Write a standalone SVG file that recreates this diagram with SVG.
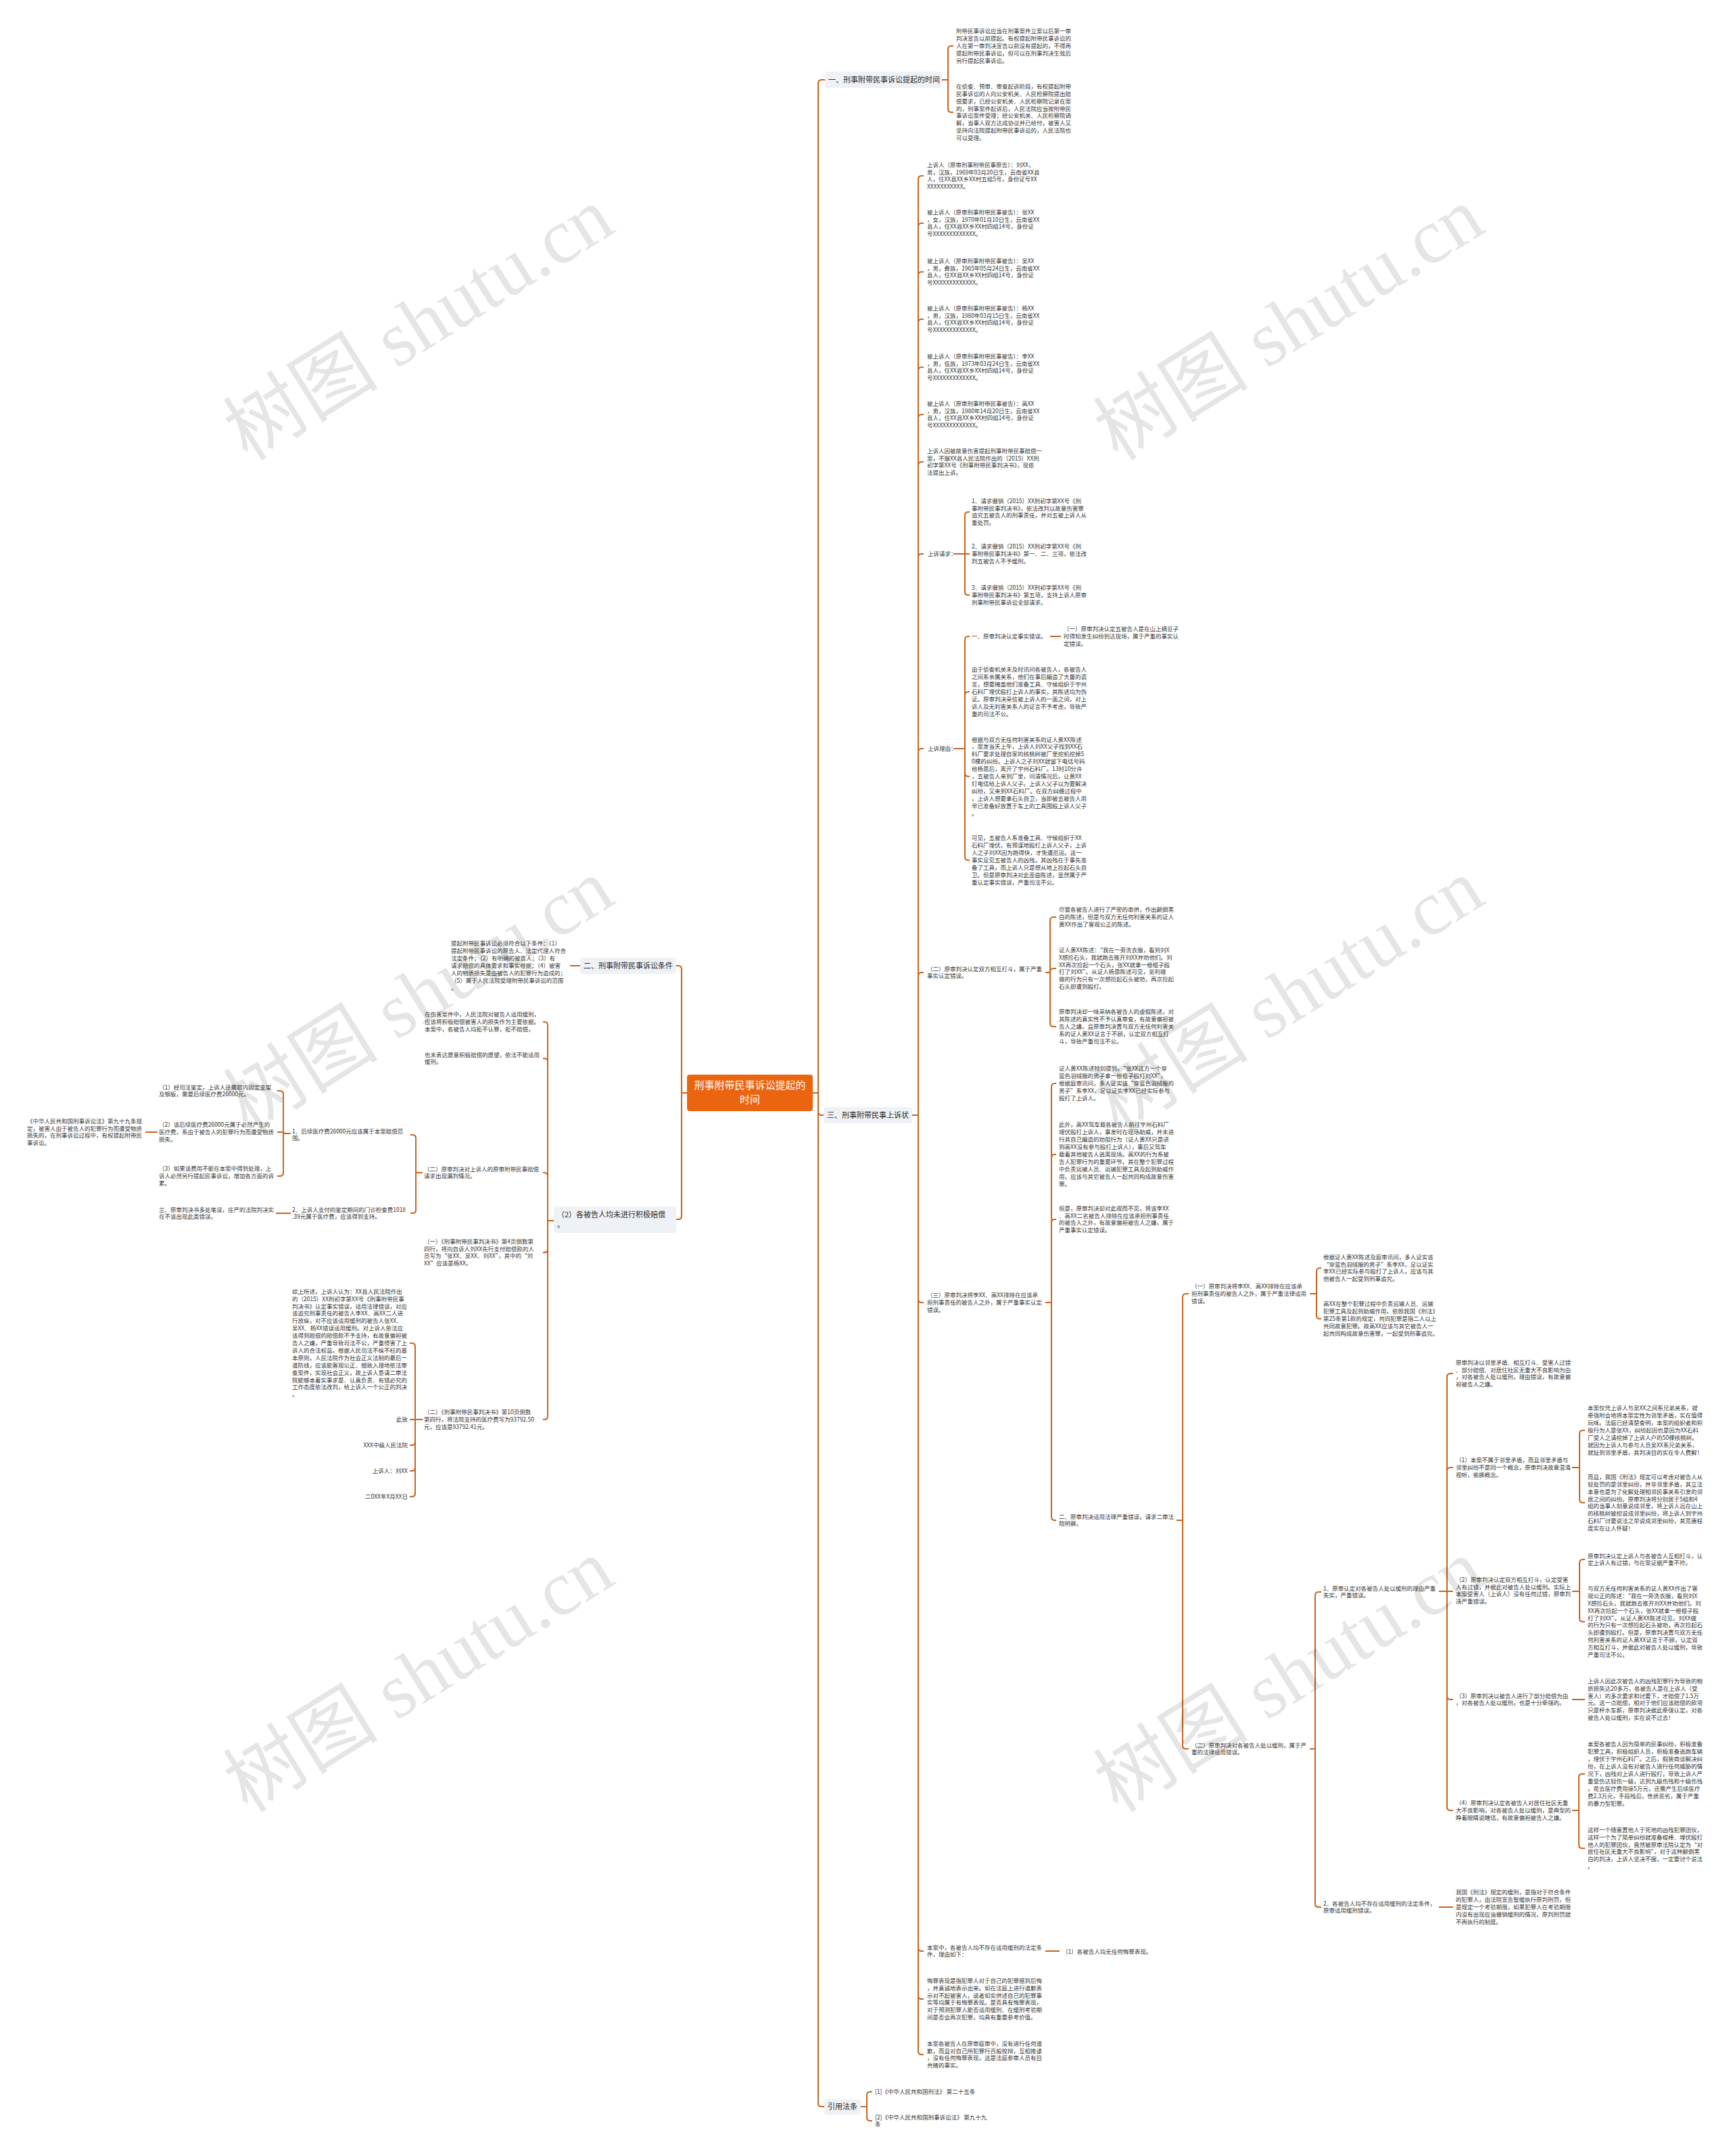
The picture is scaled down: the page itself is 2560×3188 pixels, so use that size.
<svg xmlns="http://www.w3.org/2000/svg" width="2560" height="3188" viewBox="0 0 2560 3188">
<style>
text{font-family:"Noto Sans CJK SC","Liberation Sans",sans-serif;fill:#333}
.t{font-size:8.5px}
.tp{font-size:11px;fill:#2b2b2b}
.cn{font-size:15px;fill:#fff}
.box{fill:#eef1f5}
.root{fill:#eb640f}
.c path{fill:none;stroke:#c8641d;stroke-width:2}
.wm{font-family:"Liberation Serif","Noto Sans CJK SC",serif;font-size:115px;fill:#000;fill-opacity:.1}
</style>
<rect width="2560" height="3188" fill="#fff"/>
<g id="connectors" class="c">
<path d="M1202 1616H1210V123Q1210 118 1215 118H1220"/>
<path d="M1202 1616H1210V1644Q1210 1649 1215 1649H1218"/>
<path d="M1202 1616H1210V3110Q1210 3115 1215 3115H1219"/>
<path d="M1016 1616H1008V1433Q1008 1428 1003 1428H1000"/>
<path d="M1016 1616H1008V1798Q1008 1803 1003 1803H1000"/>
<path d="M1393 118H1402V73Q1402 68 1407 68H1410"/>
<path d="M1393 118H1402V161Q1402 166 1407 166H1410"/>
<path d="M858 1428H843"/>
<path d="M819 1805H810V1516Q810 1511 805 1511H803"/>
<path d="M819 1805H810V1570Q810 1565 805 1565H803"/>
<path d="M819 1805H810V1739Q810 1734 805 1734H803"/>
<path d="M819 1805H810V1847Q810 1852 805 1852H803"/>
<path d="M819 1805H810V2094Q810 2099 805 2099H803"/>
<path d="M625 1734H615V1683Q615 1678 610 1678H607"/>
<path d="M625 1734H615V1789Q615 1794 610 1794H607"/>
<path d="M430 1676H419V1618Q419 1613 414 1613H410"/>
<path d="M430 1676H419V1674H410"/>
<path d="M430 1676H419V1734Q419 1739 414 1739H410"/>
<path d="M233 1674H215"/>
<path d="M430 1794H408"/>
<path d="M625 2099H614V1991Q614 1986 609 1986H606"/>
<path d="M625 2099H606"/>
<path d="M625 2099H614V2132Q614 2137 609 2137H606"/>
<path d="M625 2099H614V2170Q614 2175 609 2175H606"/>
<path d="M625 2099H614V2208Q614 2213 609 2213H606"/>
<path d="M1349 1649H1358V265Q1358 260 1363 260H1366"/>
<path d="M1349 1649H1358V335Q1358 330 1363 330H1366"/>
<path d="M1349 1649H1358V407Q1358 402 1363 402H1366"/>
<path d="M1349 1649H1358V477Q1358 472 1363 472H1366"/>
<path d="M1349 1649H1358V548Q1358 543 1363 543H1366"/>
<path d="M1349 1649H1358V618Q1358 613 1363 613H1366"/>
<path d="M1349 1649H1358V688Q1358 683 1363 683H1366"/>
<path d="M1349 1649H1358V824Q1358 819 1363 819H1366"/>
<path d="M1349 1649H1358V1112Q1358 1107 1363 1107H1366"/>
<path d="M1349 1649H1358V1443Q1358 1438 1363 1438H1366"/>
<path d="M1349 1649H1358V1921Q1358 1926 1363 1926H1366"/>
<path d="M1349 1649H1358V2880Q1358 2885 1363 2885H1366"/>
<path d="M1349 1649H1358V2951Q1358 2956 1363 2956H1366"/>
<path d="M1349 1649H1358V3033Q1358 3038 1363 3038H1366"/>
<path d="M1410 819H1427V762Q1427 757 1432 757H1434"/>
<path d="M1410 819H1434"/>
<path d="M1410 819H1427V875Q1427 880 1432 880H1434"/>
<path d="M1410 1107H1427V946Q1427 941 1432 941H1434"/>
<path d="M1410 1107H1427V1028Q1427 1023 1432 1023H1434"/>
<path d="M1410 1107H1427V1143Q1427 1148 1432 1148H1434"/>
<path d="M1410 1107H1427V1267Q1427 1272 1432 1272H1434"/>
<path d="M1553 941H1569"/>
<path d="M1546 1438H1553V1361Q1553 1356 1558 1356H1562"/>
<path d="M1546 1438H1553V1437Q1553 1432 1558 1432H1562"/>
<path d="M1546 1438H1553V1513Q1553 1518 1558 1518H1562"/>
<path d="M1546 1926H1555V1607Q1555 1602 1560 1602H1562"/>
<path d="M1546 1926H1555V1712Q1555 1707 1560 1707H1562"/>
<path d="M1546 1926H1555V1808Q1555 1803 1560 1803H1562"/>
<path d="M1546 1926H1555V2243Q1555 2248 1560 2248H1562"/>
<path d="M1740 2248H1749V1918Q1749 1913 1754 1913H1758"/>
<path d="M1740 2248H1749V2581Q1749 2586 1754 2586H1758"/>
<path d="M1937 1913H1947V1880Q1947 1875 1952 1875H1954"/>
<path d="M1937 1913H1947V1945Q1947 1950 1952 1950H1954"/>
<path d="M1937 2586H1945V2359Q1945 2354 1950 2354H1954"/>
<path d="M1937 2586H1945V2815Q1945 2820 1950 2820H1954"/>
<path d="M2128 2353H2140V2036Q2140 2031 2145 2031H2149"/>
<path d="M2128 2353H2140V2175Q2140 2170 2145 2170H2149"/>
<path d="M2128 2353H2149"/>
<path d="M2128 2353H2140V2508Q2140 2513 2145 2513H2149"/>
<path d="M2128 2353H2140V2672Q2140 2677 2145 2677H2149"/>
<path d="M2325 2170H2336V2120Q2336 2115 2341 2115H2344"/>
<path d="M2325 2170H2336V2217Q2336 2222 2341 2222H2344"/>
<path d="M2325 2353H2336V2311Q2336 2306 2341 2306H2344"/>
<path d="M2325 2353H2336V2393Q2336 2398 2341 2398H2344"/>
<path d="M2325 2513H2344"/>
<path d="M2325 2677H2335V2628Q2335 2623 2340 2623H2344"/>
<path d="M2325 2677H2335V2728Q2335 2733 2340 2733H2344"/>
<path d="M2128 2820H2149"/>
<path d="M1546 2885H1567"/>
<path d="M1273 3115H1282V3098Q1282 3093 1287 3093H1290"/>
<path d="M1273 3115H1282V3131Q1282 3136 1287 3136H1290"/>
</g>

<g id="root">
<rect class="root" x="1016" y="1589" width="186" height="54" rx="4"/>
<text class="cn" x="1109" y="1610" text-anchor="middle"><tspan x="1109">刑事附带民事诉讼提起的</tspan><tspan x="1109" dy="21">时间</tspan></text>
</g>

<g id="topic-1">
<rect class="box" x="1220" y="106" width="173" height="24" rx="4"/>
<text class="tp" x="1225" y="122">一、刑事附带民事诉讼提起的时间</text>
</g>
<g id="topic-1-a">
<text class="t" x="1414" y="49.2"><tspan x="1414">附带民事诉讼应当在刑事案件立案以后第一审</tspan><tspan x="1414" dy="10.9">判决宣告以前提起。有权提起附带民事诉讼的</tspan><tspan x="1414" dy="10.9">人在第一审判决宣告以前没有提起的，不得再</tspan><tspan x="1414" dy="10.9">提起附带民事诉讼，但可以在刑事判决生效后</tspan><tspan x="1414" dy="10.9">另行提起民事诉讼。</tspan></text>
</g>
<g id="topic-1-b">
<text class="t" x="1414" y="130.85"><tspan x="1414">在侦查、预审、审查起诉阶段，有权提起附带</tspan><tspan x="1414" dy="10.9">民事诉讼的人向公安机关、人民检察院提出赔</tspan><tspan x="1414" dy="10.9">偿要求，已经公安机关、人民检察院记录在案</tspan><tspan x="1414" dy="10.9">的，刑事案件起诉后，人民法院应当按附带民</tspan><tspan x="1414" dy="10.9">事诉讼案件受理；经公安机关、人民检察院调</tspan><tspan x="1414" dy="10.9">解，当事人双方达成协议并已给付，被害人又</tspan><tspan x="1414" dy="10.9">坚持向法院提起附带民事诉讼的，人民法院也</tspan><tspan x="1414" dy="10.9">可以受理。</tspan></text>
</g>

<g id="topic-2">
<rect class="box" x="858" y="1416" width="142" height="24" rx="4"/>
<text class="tp" x="863" y="1432">二、刑事附带民事诉讼条件</text>
</g>
<g id="topic-2-a">
<text class="t" x="667" y="1398.3"><tspan x="667">提起附带民事诉讼必须符合以下条件：（1）</tspan><tspan x="667" dy="10.9">提起附带民事诉讼的原告人、法定代理人符合</tspan><tspan x="667" dy="10.9">法定条件；（2）有明确的被告人；（3）有</tspan><tspan x="667" dy="10.9">请求赔偿的具体要求和事实根据；（4）被害</tspan><tspan x="667" dy="10.9">人的物质损失是由被告人的犯罪行为造成的；</tspan><tspan x="667" dy="10.9">（5）属于人民法院受理附带民事诉讼的范围</tspan><tspan x="667" dy="10.9">。</tspan></text>
</g>

<g id="topic-2b">
<rect class="box" x="819" y="1784" width="181" height="39" rx="4"/>
<text class="tp" x="824" y="1800"><tspan x="824">（2）各被告人均未进行积极赔偿</tspan><tspan x="824" dy="15">。</tspan></text>
</g>
<g id="l-a"><text class="t" x="628" y="1503.1"><tspan x="628">在伤害案件中，人民法院对被告人适用缓刑，</tspan><tspan x="628" dy="10.9">应该将积极赔偿被害人的损失作为主要依据。</tspan><tspan x="628" dy="10.9">本案中，各被告人均拒不认罪，拒不赔偿，</tspan></text></g>
<g id="l-b"><text class="t" x="628" y="1562.55"><tspan x="628">也未表达愿意积极赔偿的愿望，依法不能适用</tspan><tspan x="628" dy="10.9">缓刑。</tspan></text></g>
<g id="l-c"><text class="t" x="627" y="1731.55"><tspan x="627">（二）原审判决对上诉人的原审附带民事赔偿</tspan><tspan x="627" dy="10.9">请求出现漏判情况。</tspan></text></g>
<g id="l-c1"><text class="t" x="432" y="1675.55"><tspan x="432">1、后续医疗费26000元应该属于本案赔偿范</tspan><tspan x="432" dy="10.9">围。</tspan></text></g>
<g id="l-c1a"><text class="t" x="235" y="1610.55"><tspan x="235">（1）经司法鉴定，上诉人还需取内固定支架</tspan><tspan x="235" dy="10.9">及钢板，需要后续医疗费26000元。</tspan></text></g>
<g id="l-c1b"><text class="t" x="235" y="1666.1"><tspan x="235">（2）该后续医疗费26000元属于必然产生的</tspan><tspan x="235" dy="10.9">医疗费，系由于被告人的犯罪行为而遭受物质</tspan><tspan x="235" dy="10.9">损失。</tspan></text></g>
<g id="l-c1b1"><text class="t" x="40" y="1660.65"><tspan x="40">《中华人民共和国刑事诉讼法》第九十九条规</tspan><tspan x="40" dy="10.9">定，被害人由于被告人的犯罪行为而遭受物质</tspan><tspan x="40" dy="10.9">损失的，在刑事诉讼过程中，有权提起附带民</tspan><tspan x="40" dy="10.9">事诉讼。</tspan></text></g>
<g id="l-c1c"><text class="t" x="235" y="1731.1"><tspan x="235">（3）如果该费用不能在本案中得到处理，上</tspan><tspan x="235" dy="10.9">诉人必然另行提起民事诉讼，增加各方面的诉</tspan><tspan x="235" dy="10.9">累。</tspan></text></g>
<g id="l-c2"><text class="t" x="432" y="1791.55"><tspan x="432">2、上诉人支付的鉴定期间的门诊检查费1018</tspan><tspan x="432" dy="10.9">.39元属于医疗费，应该得到支持。</tspan></text></g>
<g id="l-c2a"><text class="t" x="235" y="1791.55"><tspan x="235">三、原审判决书多处笔误，庄严的法院判决实</tspan><tspan x="235" dy="10.9">在不该出现此类错误。</tspan></text></g>
<g id="l-d"><text class="t" x="627" y="1838.65"><tspan x="627">（一）《刑事附带民事判决书》第4页倒数第</tspan><tspan x="627" dy="10.9">四行，将向自诉人刘XX先行支付赔偿款的人</tspan><tspan x="627" dy="10.9">员写为“张XX、吴XX、刘XX”，其中的“刘</tspan><tspan x="627" dy="10.9">XX”应该是杨XX。</tspan></text></g>
<g id="l-e"><text class="t" x="627" y="2091.1"><tspan x="627">（二）《刑事附带民事判决书》第10页倒数</tspan><tspan x="627" dy="10.9">第四行，将法院支持的医疗费写为93792.50</tspan><tspan x="627" dy="10.9">元，应该是93792.41元。</tspan></text></g>
<g id="l-e1"><text class="t" x="432" y="1912.7"><tspan x="432">综上所述，上诉人认为：XX县人民法院作出</tspan><tspan x="432" dy="10.9">的（2015）XX刑初字第XX号《刑事附带民事</tspan><tspan x="432" dy="10.9">判决书》认定事实错误，适用法律错误，对应</tspan><tspan x="432" dy="10.9">该追究刑事责任的被告人李XX、高XX二人进</tspan><tspan x="432" dy="10.9">行放纵，对不应该适用缓刑的被告人张XX、</tspan><tspan x="432" dy="10.9">吴XX、杨XX错误适用缓刑。对上诉人依法应</tspan><tspan x="432" dy="10.9">该得到赔偿的赔偿款不予支持，有故意偏袒被</tspan><tspan x="432" dy="10.9">告人之嫌，严重导致司法不公，严重侵害了上</tspan><tspan x="432" dy="10.9">诉人的合法权益。根据人民司法不纵不枉的基</tspan><tspan x="432" dy="10.9">本原则，人民法院作为社会正义法制的最后一</tspan><tspan x="432" dy="10.9">道防线，应该能客观公正、细致入理地依法审</tspan><tspan x="432" dy="10.9">查案件，实现社会正义，故上诉人恳请二审法</tspan><tspan x="432" dy="10.9">院能够本着实事求是、认真负责、有错必究的</tspan><tspan x="432" dy="10.9">工作态度依法改判，给上诉人一个公正的判决</tspan><tspan x="432" dy="10.9">。</tspan></text></g>
<g id="l-e2"><text class="t" x="603" y="2102" text-anchor="end">此致</text></g>
<g id="l-e3"><text class="t" x="603" y="2140" text-anchor="end">XXX中级人民法院</text></g>
<g id="l-e4"><text class="t" x="603" y="2178" text-anchor="end">上诉人：刘XX</text></g>
<g id="l-e5"><text class="t" x="603" y="2216" text-anchor="end">二0XX年X月XX日</text></g>

<g id="topic-3">
<rect class="box" x="1218" y="1637" width="131" height="24" rx="4"/>
<text class="tp" x="1223" y="1653">三、刑事附带民事上诉状</text>
</g>
<g id="r-1"><text class="t" x="1371" y="246.65"><tspan x="1371">上诉人（原审刑事附带民事原告）：刘XX，</tspan><tspan x="1371" dy="10.9">男，汉族，1969年03月20日生，云南省XX县</tspan><tspan x="1371" dy="10.9">人，住XX县XX乡XX村五组5号，身份证号XX</tspan><tspan x="1371" dy="10.9">XXXXXXXXXXX。</tspan></text></g>
<g id="r-2"><text class="t" x="1371" y="316.65"><tspan x="1371">被上诉人（原审刑事附带民事被告）：张XX</tspan><tspan x="1371" dy="10.9">，女，汉族，1970年01月10日生，云南省XX</tspan><tspan x="1371" dy="10.9">县人，住XX县XX乡XX村四组14号，身份证</tspan><tspan x="1371" dy="10.9">号XXXXXXXXXXXXX。</tspan></text></g>
<g id="r-3"><text class="t" x="1371" y="388.65"><tspan x="1371">被上诉人（原审刑事附带民事被告）：吴XX</tspan><tspan x="1371" dy="10.9">，男，彝族，1965年05月24日生，云南省XX</tspan><tspan x="1371" dy="10.9">县人，住XX县XX乡XX村四组14号，身份证</tspan><tspan x="1371" dy="10.9">号XXXXXXXXXXXXX。</tspan></text></g>
<g id="r-4"><text class="t" x="1371" y="458.65"><tspan x="1371">被上诉人（原审刑事附带民事被告）：杨XX</tspan><tspan x="1371" dy="10.9">，男，汉族，1980年03月15日生，云南省XX</tspan><tspan x="1371" dy="10.9">县人，住XX县XX乡XX村四组14号，身份证</tspan><tspan x="1371" dy="10.9">号XXXXXXXXXXXXX。</tspan></text></g>
<g id="r-5"><text class="t" x="1371" y="529.65"><tspan x="1371">被上诉人（原审刑事附带民事被告）：李XX</tspan><tspan x="1371" dy="10.9">，男，佤族，1973年03月24日生，云南省XX</tspan><tspan x="1371" dy="10.9">县人，住XX县XX乡XX村四组14号，身份证</tspan><tspan x="1371" dy="10.9">号XXXXXXXXXXXXX。</tspan></text></g>
<g id="r-6"><text class="t" x="1371" y="599.65"><tspan x="1371">被上诉人（原审刑事附带民事被告）：高XX</tspan><tspan x="1371" dy="10.9">，男，汉族，1980年14月20日生，云南省XX</tspan><tspan x="1371" dy="10.9">县人，住XX县XX乡XX村四组14号，身份证</tspan><tspan x="1371" dy="10.9">号XXXXXXXXXXXXX。</tspan></text></g>
<g id="r-7"><text class="t" x="1371" y="669.65"><tspan x="1371">上诉人因被故意伤害提起刑事附带民事赔偿一</tspan><tspan x="1371" dy="10.9">案，不服XX县人民法院作出的（2015）XX刑</tspan><tspan x="1371" dy="10.9">初字第XX号《刑事附带民事判决书》，现依</tspan><tspan x="1371" dy="10.9">法提出上诉。</tspan></text></g>
<g id="r-8"><text class="t" x="1372" y="822">上诉请求：</text></g>
<g id="r-8a"><text class="t" x="1437" y="743.65"><tspan x="1437">1、请求撤销（2015）XX刑初字第XX号《刑</tspan><tspan x="1437" dy="10.9">事附带民事判决书》，依法改判以故意伤害罪</tspan><tspan x="1437" dy="10.9">追究五被告人的刑事责任，并对五被上诉人从</tspan><tspan x="1437" dy="10.9">重处罚。</tspan></text></g>
<g id="r-8b"><text class="t" x="1437" y="811.1"><tspan x="1437">2、请求撤销（2015）XX刑初字第XX号《刑</tspan><tspan x="1437" dy="10.9">事附带民事判决书》第一、二、三项，依法改</tspan><tspan x="1437" dy="10.9">判五被告人不予缓刑。</tspan></text></g>
<g id="r-8c"><text class="t" x="1437" y="872.1"><tspan x="1437">3、请求撤销（2015）XX刑初字第XX号《刑</tspan><tspan x="1437" dy="10.9">事附带民事判决书》第五项，支持上诉人原审</tspan><tspan x="1437" dy="10.9">刑事附带民事诉讼全部请求。</tspan></text></g>
<g id="r-9"><text class="t" x="1372" y="1110">上诉理由：</text></g>
<g id="r-9a"><text class="t" x="1437" y="944">一、原审判决认定事实错误。</text></g>
<g id="r-9a1"><text class="t" x="1573" y="933.1"><tspan x="1573">（一）原审判决认定五被告人是在山上摘豆子</tspan><tspan x="1573" dy="10.9">时得知发生纠纷到达现场，属于严重的事实认</tspan><tspan x="1573" dy="10.9">定错误。</tspan></text></g>
<g id="r-9b"><text class="t" x="1437" y="993.3"><tspan x="1437">由于侦查机关未及时讯问各被告人，各被告人</tspan><tspan x="1437" dy="10.9">之间系亲属关系，他们在事后编造了大量的谎</tspan><tspan x="1437" dy="10.9">言，想要掩盖他们准备工具、守候组织于宇州</tspan><tspan x="1437" dy="10.9">石料厂埋伏殴打上诉人的事实，其陈述均为伪</tspan><tspan x="1437" dy="10.9">证。原审判决采信被上诉人的一面之词，对上</tspan><tspan x="1437" dy="10.9">诉人及无利害关系人的证言不予考虑，导致严</tspan><tspan x="1437" dy="10.9">重的司法不公。</tspan></text></g>
<g id="r-9c"><text class="t" x="1437" y="1096.5"><tspan x="1437">根据与双方无任何利害关系的证人黄XX陈述</tspan><tspan x="1437" dy="10.9">，案发当天上午，上诉人刘XX父子找到XX石</tspan><tspan x="1437" dy="10.9">料厂要求处理自家的核桃树被厂里挖机挖掉5</tspan><tspan x="1437" dy="10.9">0棵的纠纷。上诉人之子刘XX就留下电话号码</tspan><tspan x="1437" dy="10.9">给杨恩后，离开了宇州石料厂。13时10分许</tspan><tspan x="1437" dy="10.9">，五被告人来到厂里，问清情况后，让黄XX</tspan><tspan x="1437" dy="10.9">打电话给上诉人父子。上诉人父子以为要解决</tspan><tspan x="1437" dy="10.9">纠纷，又来到XX石料厂。在双方纠缠过程中</tspan><tspan x="1437" dy="10.9">，上诉人想要拿石头自卫，当即被五被告人用</tspan><tspan x="1437" dy="10.9">早已准备好放置于车上的工具围殴上诉人父子</tspan><tspan x="1437" dy="10.9">。</tspan></text></g>
<g id="r-9d"><text class="t" x="1437" y="1242.3"><tspan x="1437">可见，五被告人系准备工具、守候组织于XX</tspan><tspan x="1437" dy="10.9">石料厂埋伏，有预谋地殴打上诉人父子，上诉</tspan><tspan x="1437" dy="10.9">人之子刘XX因为跑得快，才免遭厄运。这一</tspan><tspan x="1437" dy="10.9">事实足见五被告人的凶残，其凶残在于事先准</tspan><tspan x="1437" dy="10.9">备了工具，而上诉人只是想从地上捡起石头自</tspan><tspan x="1437" dy="10.9">卫。但是原审判决对此歪曲陈述，显然属于严</tspan><tspan x="1437" dy="10.9">重认定事实错误，严重司法不公。</tspan></text></g>
<g id="r-10"><text class="t" x="1371" y="1435.55"><tspan x="1371">（二）原审判决认定双方相互打斗，属于严重</tspan><tspan x="1371" dy="10.9">事实认定错误。</tspan></text></g>
<g id="r-10a"><text class="t" x="1566" y="1348.1"><tspan x="1566">尽管各被告人进行了严密的串供，作出颠倒黑</tspan><tspan x="1566" dy="10.9">白的陈述，但是与双方无任何利害关系的证人</tspan><tspan x="1566" dy="10.9">黄XX作出了客观公正的陈述。</tspan></text></g>
<g id="r-10b"><text class="t" x="1566" y="1407.75"><tspan x="1566">证人黄XX陈述：“我在一旁洗衣服，看到刘X</tspan><tspan x="1566" dy="10.9">X想捡石头，我就跑去推开刘XX并劝他们。刘</tspan><tspan x="1566" dy="10.9">XX再次捡起一个石头，张XX就拿一根棍子殴</tspan><tspan x="1566" dy="10.9">打了刘XX”。从证人杨恩陈述可见，吴利雄</tspan><tspan x="1566" dy="10.9">做的行为只有一次想捡起石头被劝，再次捡起</tspan><tspan x="1566" dy="10.9">石头即遭到殴打。</tspan></text></g>
<g id="r-10c"><text class="t" x="1566" y="1499.2"><tspan x="1566">原审判决却一味采纳各被告人的虚假陈述，对</tspan><tspan x="1566" dy="10.9">其陈述的真实性不予认真审查，有故意偏袒被</tspan><tspan x="1566" dy="10.9">告人之嫌。且原审判决置与双方无任何利害关</tspan><tspan x="1566" dy="10.9">系的证人黄XX证言于不顾，认定双方相互打</tspan><tspan x="1566" dy="10.9">斗，导致严重司法不公。</tspan></text></g>
<g id="r-11"><text class="t" x="1371" y="1918.1"><tspan x="1371">（三）原审判决将李XX、高XX排除在应该承</tspan><tspan x="1371" dy="10.9">担刑事责任的被告人之外，属于严重事实认定</tspan><tspan x="1371" dy="10.9">错误。</tspan></text></g>
<g id="r-11a"><text class="t" x="1566" y="1583.2"><tspan x="1566">证人黄XX陈述特别提到，“张XX这方一个穿</tspan><tspan x="1566" dy="10.9">蓝色羽绒服的男子拿一根棍子殴打刘XX”，</tspan><tspan x="1566" dy="10.9">根据庭审讯问，多人证实该“穿蓝色羽绒服的</tspan><tspan x="1566" dy="10.9">男子”系李XX，足以证实李XX已经实际参与</tspan><tspan x="1566" dy="10.9">殴打了上诉人。</tspan></text></g>
<g id="r-11b"><text class="t" x="1566" y="1666.4"><tspan x="1566">此外，高XX驾车载各被告人前往宇州石料厂</tspan><tspan x="1566" dy="10.9">埋伏殴打上诉人，事发时在现场助威，并未进</tspan><tspan x="1566" dy="10.9">行其自己编造的劝阻行为（证人黄XX只是讲</tspan><tspan x="1566" dy="10.9">到高XX没有参与殴打上诉人），事后又驾车</tspan><tspan x="1566" dy="10.9">载着其他被告人逃离现场。高XX的行为系被</tspan><tspan x="1566" dy="10.9">告人犯罪行为的重要环节，其在整个犯罪过程</tspan><tspan x="1566" dy="10.9">中负责运输人员、运输犯罪工具及起到助威作</tspan><tspan x="1566" dy="10.9">用，应该与其它被告人一起共同构成故意伤害</tspan><tspan x="1566" dy="10.9">罪。</tspan></text></g>
<g id="r-11c"><text class="t" x="1566" y="1789.65"><tspan x="1566">但是，原审判决却对此视而不见，将该李XX</tspan><tspan x="1566" dy="10.9">、高XX二名被告人排除在应该承担刑事责任</tspan><tspan x="1566" dy="10.9">的被告人之外，有故意偏袒被告人之嫌，属于</tspan><tspan x="1566" dy="10.9">严重事实认定错误。</tspan></text></g>
<g id="r-11d"><text class="t" x="1566" y="2245.55"><tspan x="1566">二、原审判决适用法律严重错误，请求二审法</tspan><tspan x="1566" dy="10.9">院明察。</tspan></text></g>
<g id="r-11d1"><text class="t" x="1762" y="1905.1"><tspan x="1762">（一）原审判决将李XX、高XX排除在应该承</tspan><tspan x="1762" dy="10.9">担刑事责任的被告人之外，属于严重法律适用</tspan><tspan x="1762" dy="10.9">错误。</tspan></text></g>
<g id="r-11d1a"><text class="t" x="1957" y="1861.65"><tspan x="1957">根据证人黄XX陈述及庭审讯问，多人证实该</tspan><tspan x="1957" dy="10.9">“穿蓝色羽绒服的男子”系李XX，足以证实</tspan><tspan x="1957" dy="10.9">李XX已经实际参与殴打了上诉人，应该与其</tspan><tspan x="1957" dy="10.9">他被告人一起受到刑事追究。</tspan></text></g>
<g id="r-11d1b"><text class="t" x="1957" y="1931.2"><tspan x="1957">高XX在整个犯罪过程中负责运输人员、运输</tspan><tspan x="1957" dy="10.9">犯罪工具及起到助威作用，依照我国《刑法》</tspan><tspan x="1957" dy="10.9">第25条第1款的规定，共同犯罪是指二人以上</tspan><tspan x="1957" dy="10.9">共同故意犯罪。故高XX应该与其它被告人一</tspan><tspan x="1957" dy="10.9">起共同构成故意伤害罪，一起受到刑事追究。</tspan></text></g>
<g id="r-11d2"><text class="t" x="1762" y="2583.55"><tspan x="1762">（二）原审判决对各被告人处以缓刑，属于严</tspan><tspan x="1762" dy="10.9">重的法律适用错误。</tspan></text></g>
<g id="r-11d2a"><text class="t" x="1957" y="2351.55"><tspan x="1957">1、原审认定对各被告人处以缓刑的理由严重</tspan><tspan x="1957" dy="10.9">失实，严重错误。</tspan></text></g>
<g id="r-s0"><text class="t" x="2153" y="2017.65"><tspan x="2153">原审判决以邻里矛盾、相互打斗、受害人过错</tspan><tspan x="2153" dy="10.9">、部分赔偿、对居住社区无重大不良影响为由</tspan><tspan x="2153" dy="10.9">，对各被告人处以缓刑，理由错误，有故意偏</tspan><tspan x="2153" dy="10.9">袒被告人之嫌。</tspan></text></g>
<g id="r-s1"><text class="t" x="2153" y="2162.1"><tspan x="2153">（1）本案不属于邻里矛盾，而且邻里矛盾与</tspan><tspan x="2153" dy="10.9">邻里纠纷不是同一个概念，原审判决故意混淆</tspan><tspan x="2153" dy="10.9">视听，偷换概念。</tspan></text></g>
<g id="r-s1a"><text class="t" x="2348" y="2085.3"><tspan x="2348">本案仅凭上诉人与吴XX之间系兄弟关系，就</tspan><tspan x="2348" dy="10.9">牵强附会地将本案定性为邻里矛盾，实在值得</tspan><tspan x="2348" dy="10.9">玩味。法庭已经清楚查明，本案的组织者和积</tspan><tspan x="2348" dy="10.9">极行为人是张XX，纠纷起因也是因为XX石料</tspan><tspan x="2348" dy="10.9">厂受人之请挖掉了上诉人户的50棵核桃树。</tspan><tspan x="2348" dy="10.9">就因为上诉人与参与人员吴XX系兄弟关系，</tspan><tspan x="2348" dy="10.9">就扯到邻里矛盾，其判决目的实在令人费解！</tspan></text></g>
<g id="r-s1b"><text class="t" x="2348" y="2186.85"><tspan x="2348">而且，我国《刑法》规定可以考虑对被告人从</tspan><tspan x="2348" dy="10.9">轻处罚的是邻里纠纷，并非邻里矛盾，其立法</tspan><tspan x="2348" dy="10.9">本意也是为了化解处理相邻民事关系引发的邻</tspan><tspan x="2348" dy="10.9">居之间的纠纷。原审判决将分别居于5组和4</tspan><tspan x="2348" dy="10.9">组的当事人刻意说成邻里，将上诉人远在山上</tspan><tspan x="2348" dy="10.9">的核桃树被挖说成邻里纠纷，将上诉人到宇州</tspan><tspan x="2348" dy="10.9">石料厂讨要说法之举说成邻里纠纷，其荒唐程</tspan><tspan x="2348" dy="10.9">度实在让人怀疑！</tspan></text></g>
<g id="r-s2"><text class="t" x="2153" y="2338.65"><tspan x="2153">（2）原审判决认定双方相互打斗，认定受害</tspan><tspan x="2153" dy="10.9">人有过错，并据此对被告人处以缓刑。实际上</tspan><tspan x="2153" dy="10.9">本案受害人（上诉人）没有任何过错，原审判</tspan><tspan x="2153" dy="10.9">决严重错误。</tspan></text></g>
<g id="r-s2a"><text class="t" x="2348" y="2303.55"><tspan x="2348">原审判决认定上诉人与各被告人互相打斗，认</tspan><tspan x="2348" dy="10.9">定上诉人有过错，与在案证据严重不符。</tspan></text></g>
<g id="r-s2b"><text class="t" x="2348" y="2351.95"><tspan x="2348">与双方无任何利害关系的证人黄XX作出了客</tspan><tspan x="2348" dy="10.9">观公正的陈述：“我在一旁洗衣服，看到刘X</tspan><tspan x="2348" dy="10.9">X想捡石头，我就跑去推开刘XX并劝他们。刘</tspan><tspan x="2348" dy="10.9">XX再次捡起一个石头，张XX就拿一根棍子殴</tspan><tspan x="2348" dy="10.9">打了刘XX”。从证人黄XX陈述可见，刘XX做</tspan><tspan x="2348" dy="10.9">的行为只有一次想捡起石头被劝，再次捡起石</tspan><tspan x="2348" dy="10.9">头即遭到殴打。但是，原审判决置与双方无任</tspan><tspan x="2348" dy="10.9">何利害关系的证人黄XX证言于不顾，认定双</tspan><tspan x="2348" dy="10.9">方相互打斗，并据此对被告人处以缓刑，导致</tspan><tspan x="2348" dy="10.9">严重司法不公。</tspan></text></g>
<g id="r-s3"><text class="t" x="2153" y="2510.55"><tspan x="2153">（3）原审判决以被告人进行了部分赔偿为由</tspan><tspan x="2153" dy="10.9">，对各被告人处以缓刑，也是十分牵强的。</tspan></text></g>
<g id="r-s3a"><text class="t" x="2348" y="2488.75"><tspan x="2348">上诉人因此次被告人的凶残犯罪行为导致的物</tspan><tspan x="2348" dy="10.9">质损失达20多万，各被告人是在上诉人（受</tspan><tspan x="2348" dy="10.9">害人）的多次要求和讨要下，才赔偿了1.5万</tspan><tspan x="2348" dy="10.9">元。这一点赔偿，相对于他们应该赔偿的款项</tspan><tspan x="2348" dy="10.9">只是杯水车薪，原审判决据此牵强认定，对各</tspan><tspan x="2348" dy="10.9">被告人处以缓刑，实在说不过去！</tspan></text></g>
<g id="r-s4"><text class="t" x="2153" y="2669.1"><tspan x="2153">（4）原审判决认定各被告人对居住社区无重</tspan><tspan x="2153" dy="10.9">大不良影响，对各被告人处以缓刑，是典型的</tspan><tspan x="2153" dy="10.9">睁着眼睛说瞎话，有故意偏袒被告人之嫌。</tspan></text></g>
<g id="r-s4a"><text class="t" x="2348" y="2582.4"><tspan x="2348">本案各被告人因为简单的民事纠纷，积极准备</tspan><tspan x="2348" dy="10.9">犯罪工具，积极组织人员，积极准备逃跑车辆</tspan><tspan x="2348" dy="10.9">，埋伏于宇州石料厂。之后，假装商谈解决纠</tspan><tspan x="2348" dy="10.9">纷，在上诉人没有对被告人进行任何威胁的情</tspan><tspan x="2348" dy="10.9">况下，凶残对上诉人进行殴打，导致上诉人严</tspan><tspan x="2348" dy="10.9">重受伤达轻伤一级，达到九级伤残和十级伤残</tspan><tspan x="2348" dy="10.9">，花去医疗费用接5万元，还需产生后续医疗</tspan><tspan x="2348" dy="10.9">费2.3万元，手段残忍，性质恶劣，属于严重</tspan><tspan x="2348" dy="10.9">的暴力型犯罪。</tspan></text></g>
<g id="r-s4b"><text class="t" x="2348" y="2708.75"><tspan x="2348">这样一个随意置他人于死地的凶残犯罪团伙，</tspan><tspan x="2348" dy="10.9">这样一个为了简单纠纷就准备棍棒、埋伏殴打</tspan><tspan x="2348" dy="10.9">他人的犯罪团伙，竟然被原审法院认定为“对</tspan><tspan x="2348" dy="10.9">居住社区无重大不良影响”，对于这种颠倒黑</tspan><tspan x="2348" dy="10.9">白的判决，上诉人坚决不服，一定要讨个说法</tspan><tspan x="2348" dy="10.9">。</tspan></text></g>
<g id="r-11d2b"><text class="t" x="1957" y="2817.55"><tspan x="1957">2、各被告人均不存在适用缓刑的法定条件，</tspan><tspan x="1957" dy="10.9">原审适用缓刑错误。</tspan></text></g>
<g id="r-11d2b1"><text class="t" x="2153" y="2801.2"><tspan x="2153">我国《刑法》规定的缓刑，是指对于符合条件</tspan><tspan x="2153" dy="10.9">的犯罪人，由法院宣告暂缓执行原判刑罚，但</tspan><tspan x="2153" dy="10.9">是规定一个考验期限，如果犯罪人在考验期限</tspan><tspan x="2153" dy="10.9">内没有出现应当撤销缓刑的情况，原判刑罚就</tspan><tspan x="2153" dy="10.9">不再执行的制度。</tspan></text></g>
<g id="r-12"><text class="t" x="1371" y="2882.55"><tspan x="1371">本案中，各被告人均不存在适用缓刑的法定条</tspan><tspan x="1371" dy="10.9">件，理由如下：</tspan></text></g>
<g id="r-12a"><text class="t" x="1571" y="2889">（1）各被告人均无任何悔罪表现。</text></g>
<g id="r-13"><text class="t" x="1371" y="2931.75"><tspan x="1371">悔罪表现是指犯罪人对于自己的犯罪感到后悔</tspan><tspan x="1371" dy="10.9">，并真诚地表示出来。如在法庭上进行道歉表</tspan><tspan x="1371" dy="10.9">示对不起被害人，或者如实供述自己的犯罪事</tspan><tspan x="1371" dy="10.9">实等均属于有悔罪表现。是否具有悔罪表现，</tspan><tspan x="1371" dy="10.9">对于预测犯罪人能否适用缓刑、在缓刑考验期</tspan><tspan x="1371" dy="10.9">间是否会再次犯罪，均具有重要参考价值。</tspan></text></g>
<g id="r-14"><text class="t" x="1371" y="3024.65"><tspan x="1371">本案各被告人在原审庭审中，没有进行任何道</tspan><tspan x="1371" dy="10.9">歉，而且对自己所犯罪行百般狡辩，互相推诿</tspan><tspan x="1371" dy="10.9">，没有任何悔罪表现，这是法庭参审人员有目</tspan><tspan x="1371" dy="10.9">共睹的事实。</tspan></text></g>

<g id="topic-4">
<rect class="box" x="1219" y="3104" width="54" height="23" rx="4"/>
<text class="tp" x="1224" y="3119">引用法条</text>
</g>
<g id="ref-1"><text class="t" x="1294" y="3096">[1]《中华人民共和国刑法》 第二十五条</text></g>
<g id="ref-2"><text class="t" x="1294" y="3133.55"><tspan x="1294">[2]《中华人民共和国刑事诉讼法》 第九十九</tspan><tspan x="1294" dy="10.9">条</tspan></text></g>

<g id="watermarks">
<text class="wm" transform="translate(640 512) rotate(-32)" text-anchor="middle">树图 shutu.cn</text>
<text class="wm" transform="translate(1927 512) rotate(-32)" text-anchor="middle">树图 shutu.cn</text>
<text class="wm" transform="translate(640 1505) rotate(-32)" text-anchor="middle">树图 shutu.cn</text>
<text class="wm" transform="translate(1927 1505) rotate(-32)" text-anchor="middle">树图 shutu.cn</text>
<text class="wm" transform="translate(640 2511) rotate(-32)" text-anchor="middle">树图 shutu.cn</text>
<text class="wm" transform="translate(1927 2511) rotate(-32)" text-anchor="middle">树图 shutu.cn</text>
</g>
</svg>
